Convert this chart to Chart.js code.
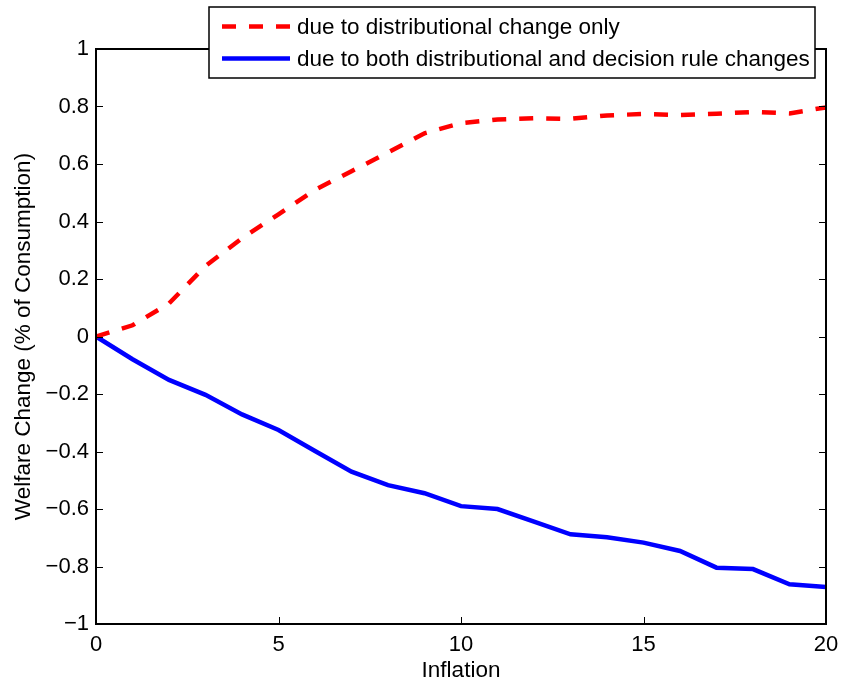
<!DOCTYPE html>
<html>
<head>
<meta charset="utf-8">
<title>Welfare change vs inflation</title>
<script src="https://cdn.jsdelivr.net/npm/chart.js@4.4.1/dist/chart.umd.min.js"></script>
<style>
  html, body { margin: 0; padding: 0; background: #fff; }
  #wrap { width: 842px; height: 688px; }
</style>
</head>
<body>
<div id="wrap"><canvas id="welfare" width="842" height="688"></canvas></div>
<script>
// values
const inflation = [0, 1, 2, 3, 4, 5, 6, 7, 8, 9, 10, 11, 12, 13, 14, 15, 16, 17, 18, 19, 20];
const distOnly = [0, 0.039, 0.115, 0.245, 0.342, 0.425, 0.51, 0.575, 0.64, 0.707, 0.742,
                  0.755, 0.759, 0.757, 0.769, 0.774, 0.77, 0.775, 0.781, 0.776, 0.797];
const bothChanges = [0, -0.079, -0.151, -0.203, -0.271, -0.325, -0.398, -0.47, -0.517, -0.545, -0.59,
                     -0.6, -0.644, -0.688, -0.698, -0.717, -0.746, -0.804, -0.809, -0.862, -0.871];
const xTicks = [0, 5, 10, 15, 20];
const yTicks = [-1, -0.8, -0.6, -0.4, -0.2, 0, 0.2, 0.4, 0.6, 0.8, 1];

const seriesLabels = ["due to distributional change only",
                      "due to both distributional and decision rule changes"];

const FONT = "'Liberation Sans', Arial, Helvetica, sans-serif";
Chart.defaults.font.family = FONT;
Chart.defaults.font.size = 22;
Chart.defaults.color = "#000";

const toPts = (ys) => ys.map((y, i) => ({ x: inflation[i], y: y }));
const fmt = (v) => String(Number(v.toFixed(1))).replace("-", "\u2212");

// matlab style box + inward ticks
const frame = {
  id: "frame",
  afterDraw(chart) {
    const { ctx, chartArea: a } = chart;
    const xs = chart.scales.x, ys = chart.scales.y;
    ctx.save();
    ctx.strokeStyle = "#000";
    ctx.lineWidth = 1;
    ctx.beginPath();
    xs.ticks.forEach(t => {
      const px = Math.round(xs.getPixelForValue(t.value)) + 0.5;
      ctx.moveTo(px, a.bottom); ctx.lineTo(px, a.bottom - 7);
      ctx.moveTo(px, a.top); ctx.lineTo(px, a.top + 7);
    });
    ys.ticks.forEach(t => {
      const py = Math.round(ys.getPixelForValue(t.value)) + 0.5;
      ctx.moveTo(a.left, py); ctx.lineTo(a.left + 7, py);
      ctx.moveTo(a.right, py); ctx.lineTo(a.right - 7, py);
    });
    ctx.stroke();
    ctx.lineWidth = 2;
    ctx.strokeRect(a.left, a.top, a.right - a.left, a.bottom - a.top);
    ctx.restore();
  }
};

const boxLegend = {
  id: "boxLegend",
  afterDraw(chart) {
    const ctx = chart.ctx;
    ctx.save();
    ctx.fillStyle = "#fff";
    ctx.fillRect(209, 7, 606, 71);
    ctx.strokeStyle = "#000";
    ctx.lineWidth = 1.5;
    ctx.strokeRect(209, 7, 606, 71);
    ctx.font = "22.5px " + FONT;
    ctx.textBaseline = "middle";
    chart.data.datasets.forEach((ds, i) => {
      const y = 26.5 + i * 32;
      ctx.setLineDash(ds.borderDash || []);
      ctx.strokeStyle = ds.borderColor;
      ctx.lineWidth = ds.borderWidth;
      ctx.beginPath();
      ctx.moveTo(222, y); ctx.lineTo(290, y);
      ctx.stroke();
      ctx.fillStyle = "#000";
      ctx.fillText(ds.label, 297, y + 1);
    });
    ctx.restore();
  }
};

new Chart(document.getElementById("welfare"), {
  type: "line",
  data: {
    datasets: [{
      label: seriesLabels[0],
      data: toPts(distOnly),
      borderColor: "#ff0000",
      borderWidth: 4.5,
      borderDash: [14, 13],
      pointRadius: 0,
      tension: 0,
      fill: false
    }, {
      label: seriesLabels[1],
      data: toPts(bothChanges),
      borderColor: "#0000ff",
      borderWidth: 4.5,
      pointRadius: 0,
      tension: 0,
      fill: false
    }]
  },
  options: {
    responsive: false,
    animation: false,
    devicePixelRatio: 1,
    layout: { autoPadding: false, padding: { left: 0, top: 49, right: 16, bottom: 0 } },
    plugins: { legend: { display: false }, tooltip: { enabled: false } },
    scales: {
      x: {
        type: "linear",
        min: 0, max: 20,
        afterBuildTicks: (s) => { s.ticks = xTicks.map(v => ({ value: v })); },
        afterFit: (s) => { s.height = 64; s.paddingLeft = 0; s.paddingRight = 0; },
        grid: { display: false, drawTicks: false, tickLength: 0 },
        border: { display: false },
        ticks: { padding: 8, maxRotation: 0, callback: (v) => String(v) },
        title: { display: true, text: "Inflation", font: { size: 22.5 }, padding: { top: 0, bottom: 4 } }
      },
      y: {
        type: "linear",
        min: -1, max: 1,
        afterBuildTicks: (s) => { s.ticks = yTicks.map(v => ({ value: v })); },
        afterFit: (s) => { s.width = 96; s.paddingTop = 0; s.paddingBottom = 0; },
        grid: { display: false, drawTicks: false, tickLength: 0 },
        border: { display: false },
        ticks: { padding: 7, callback: (v) => fmt(v) },
        title: { display: true, text: "Welfare Change (% of Consumption)", font: { size: 22.5 }, padding: 10 }
      }
    }
  },
  plugins: [frame, boxLegend]
});
</script>
</body>
</html>
